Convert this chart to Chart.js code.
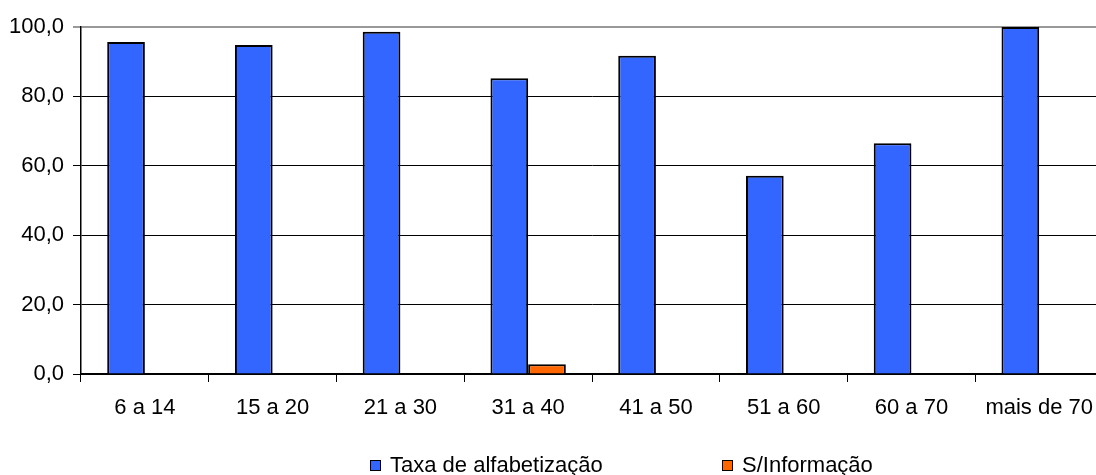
<!DOCTYPE html>
<html>
<head>
<meta charset="utf-8">
<script src="https://cdn.jsdelivr.net/npm/chart.js@4/dist/chart.umd.min.js"></script>
<style>
  html, body { margin: 0; padding: 0; background: #fff; overflow: hidden; }
  /* o canvas é um pouco mais largo: a área do gráfico passa da borda direita como no original */
  #wrap { width: 1096px; height: 475px; overflow: hidden; }
  #grafico { display: block; }
</style>
</head>
<body>
<div id="wrap"><canvas id="grafico" width="1106" height="475"></canvas></div>
<script>
// Faixas etárias
const faixas = ['6 a 14', '15 a 20', '21 a 30', '31 a 40', '41 a 50', '51 a 60', '60 a 70', 'mais de 70'];
// Taxa de alfabetização (%)
const taxa = [95.7, 94.8, 98.6, 85.2, 91.7, 57.1, 66.5, 100.0];
// Sem informação (%)
const semInfo = [0, 0, 0, 2.8, 0, 0, 0, 0];

const fonte = 'Arial, "Liberation Sans", sans-serif';

// legenda desenhada à mão, itens bem espaçados como no original
const legendaManual = {
    id: 'legendaManual',
    afterDraw(chart) {
        const ctx = chart.ctx;
        const posicoes = [370, 722];
        ctx.save();
        ctx.font = '22px ' + fonte;
        ctx.textBaseline = 'middle';
        chart.data.datasets.forEach(function(ds, i) {
            const x = posicoes[i];
            const y = 466;
            ctx.fillStyle = ds.backgroundColor;
            ctx.fillRect(x, y - 6, 11, 11);
            ctx.strokeStyle = '#000';
            ctx.lineWidth = 1;
            ctx.strokeRect(x + 0.5, y - 5.5, 10, 10);
            ctx.fillStyle = '#000';
            ctx.fillText(ds.label, x + 20, y);
        });
        ctx.restore();
    }
};

new Chart(document.getElementById('grafico').getContext('2d'), {
    type: 'bar',
    data: {
        labels: faixas,
        datasets: [{
            label: 'Taxa de alfabetização',
            data: taxa,
            backgroundColor: '#3366FF',
            borderColor: '#000',
            borderWidth: 2,
            categoryPercentage: 0.59,
            barPercentage: 1
        }, {
            label: 'S/Informação',
            data: semInfo,
            backgroundColor: '#FF6600',
            borderColor: '#000',
            borderWidth: 2,
            categoryPercentage: 0.59,
            barPercentage: 1
        }]
    },
    options: {
        responsive: false,
        animation: false,
        layout: { padding: { top: 27, right: 0, left: 0, bottom: 0 } },
        plugins: {
            legend: { display: false },
            tooltip: { enabled: false }
        },
        scales: {
            x: {
                grid: {
                    drawOnChartArea: false,
                    color: '#000',
                    tickLength: 8,
                    offset: true
                },
                border: { color: '#000', width: 2 },
                ticks: {
                    color: '#000',
                    padding: 13,
                    font: { family: fonte, size: 22 }
                },
                afterFit: function(scale) { scale.height = 101; }
            },
            y: {
                min: 0,
                max: 100,
                ticks: {
                    stepSize: 20,
                    color: '#000',
                    padding: 9,
                    font: { family: fonte, size: 22 },
                    callback: function(v) { return v.toFixed(1).replace('.', ','); }
                },
                grid: {
                    color: function(c) { return c.tick && c.tick.value === 100 ? '#999' : '#000'; },
                    lineWidth: function(c) { return c.tick && c.tick.value === 100 ? 2 : 1; },
                    tickLength: 8
                },
                border: { color: '#000', width: 1.5 },
                afterFit: function(scale) { scale.width = 81; }
            }
        }
    },
    plugins: [legendaManual]
});
</script>
</body>
</html>
